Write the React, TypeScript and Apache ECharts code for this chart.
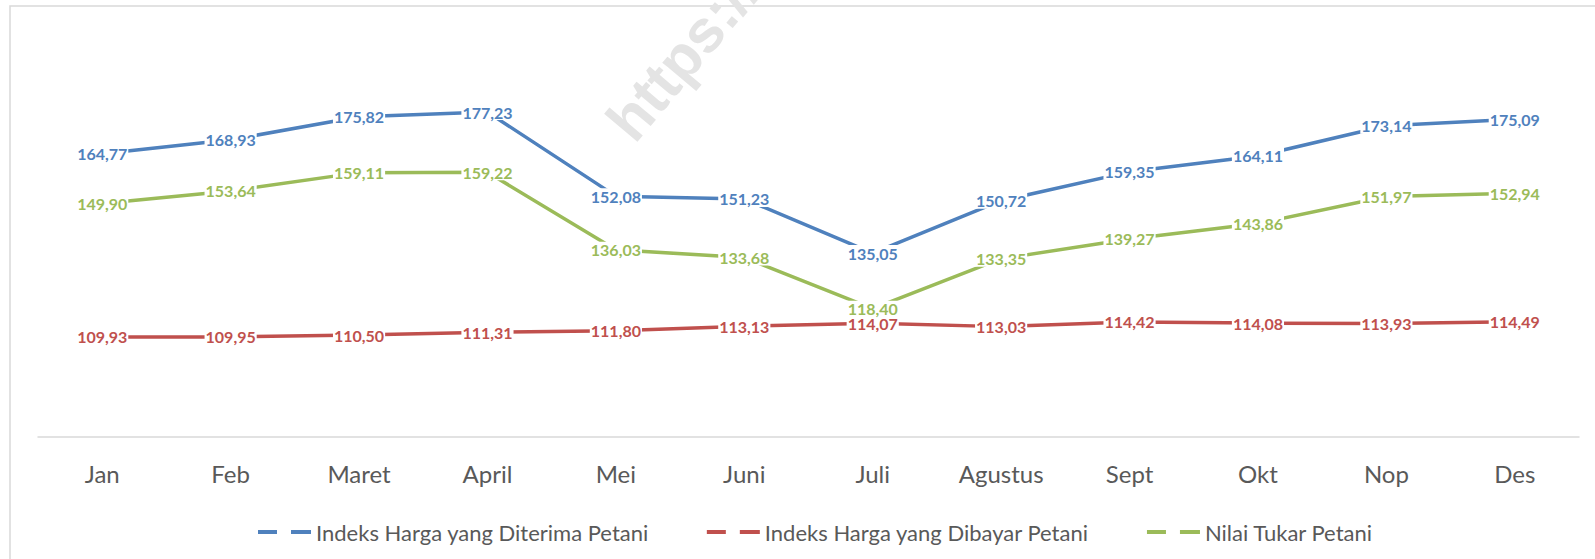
import React, { useEffect, useRef } from "react";
import * as echarts from "echarts";

const months = ["Jan", "Feb", "Maret", "April", "Mei", "Juni", "Juli", "Agustus", "Sept", "Okt", "Nop", "Des"];
const seriesNames = [
  "Indeks Harga yang Diterima Petani",
  "Indeks Harga yang Dibayar Petani",
  "Nilai Tukar Petani",
];
const diterima = [164.77, 168.93, 175.82, 177.23, 152.08, 151.23, 135.05, 150.72, 159.35, 164.11, 173.14, 175.09];
const dibayar = [109.93, 109.95, 110.5, 111.31, 111.8, 113.13, 114.07, 113.03, 114.42, 114.08, 113.93, 114.49];
const ntp = [149.9, 153.64, 159.11, 159.22, 136.03, 133.68, 118.4, 133.35, 139.27, 143.86, 151.97, 152.94];
const seriesData = [diterima, dibayar, ntp];
const colors = ["#4F81BD", "#C0504D", "#9BBB59"];

const FONT = "Lato, 'Open Sans', sans-serif";
const legendIcon = "path://M0,0H19V4H0Z M33,0H53V4H33Z";

export default function App() {
  const ref = useRef<HTMLDivElement>(null);
  useEffect(() => {
    if (!ref.current) return;
    const chart = echarts.init(ref.current, null, { renderer: "svg" });
    chart.setOption({
      animation: false,
      backgroundColor: "#ffffff",
      textStyle: { fontFamily: FONT },
      graphic: [
        {
          type: "rect",
          z: -10,
          shape: { x: 10, y: 6, width: 1620, height: 620 },
          style: { fill: "none", stroke: "#d9d9d9", lineWidth: 1.5 },
        },
        {
          type: "text",
          z: -5,
          x: 642,
          y: 151,
          rotation: (50 * Math.PI) / 180,
          style: {
            text: "https://",
            font: "bold 60px 'Liberation Sans', Arial, sans-serif",
            fill: "#e4e4e4",
            textAlign: "left",
            textVerticalAlign: "bottom",
          },
        },
      ],
      grid: { left: 38, right: 16, top: 36, bottom: 122 },
      legend: {
        left: 253,
        top: 514,
        itemWidth: 53,
        itemHeight: 4,
        itemGap: 58,
        data: seriesNames.map((n) => ({ name: n, icon: legendIcon })),
        textStyle: { color: "#595959", fontSize: 22, lineHeight: 26, fontFamily: FONT },
      },
      xAxis: {
        type: "category",
        data: months,
        boundaryGap: true,
        axisLine: { show: true, lineStyle: { color: "#d9d9d9", width: 1.5 } },
        axisTick: { show: false },
        axisLabel: { color: "#595959", fontSize: 24, lineHeight: 24, margin: 24, fontFamily: FONT },
        splitLine: { show: false },
      },
      yAxis: {
        type: "value",
        min: 80,
        max: 200,
        interval: 20,
        show: false,
        splitLine: { show: false },
      },
      series: seriesNames.map((name, i) => ({
        name,
        type: "line",
        data: seriesData[i],
        symbol: "circle",
        symbolSize: 1,
        showSymbol: true,
        color: colors[i],
        lineStyle: { color: colors[i], width: 3.5 },
        itemStyle: { color: colors[i] },
        label: {
          show: true,
          position: "inside",
          color: colors[i],
          fontWeight: "bold",
          fontSize: 16,
          fontFamily: FONT,
          backgroundColor: "#ffffff",
          padding: [0, 1],
          formatter: (p: any) => Number(p.value).toFixed(2).replace(".", ","),
        },
      })),
    });
    return () => chart.dispose();
  }, []);
  return (
    <div
      ref={ref}
      style={{ position: "fixed", left: 0, top: 0, width: 1595, height: 559, background: "#fff" }}
    />
  );
}
